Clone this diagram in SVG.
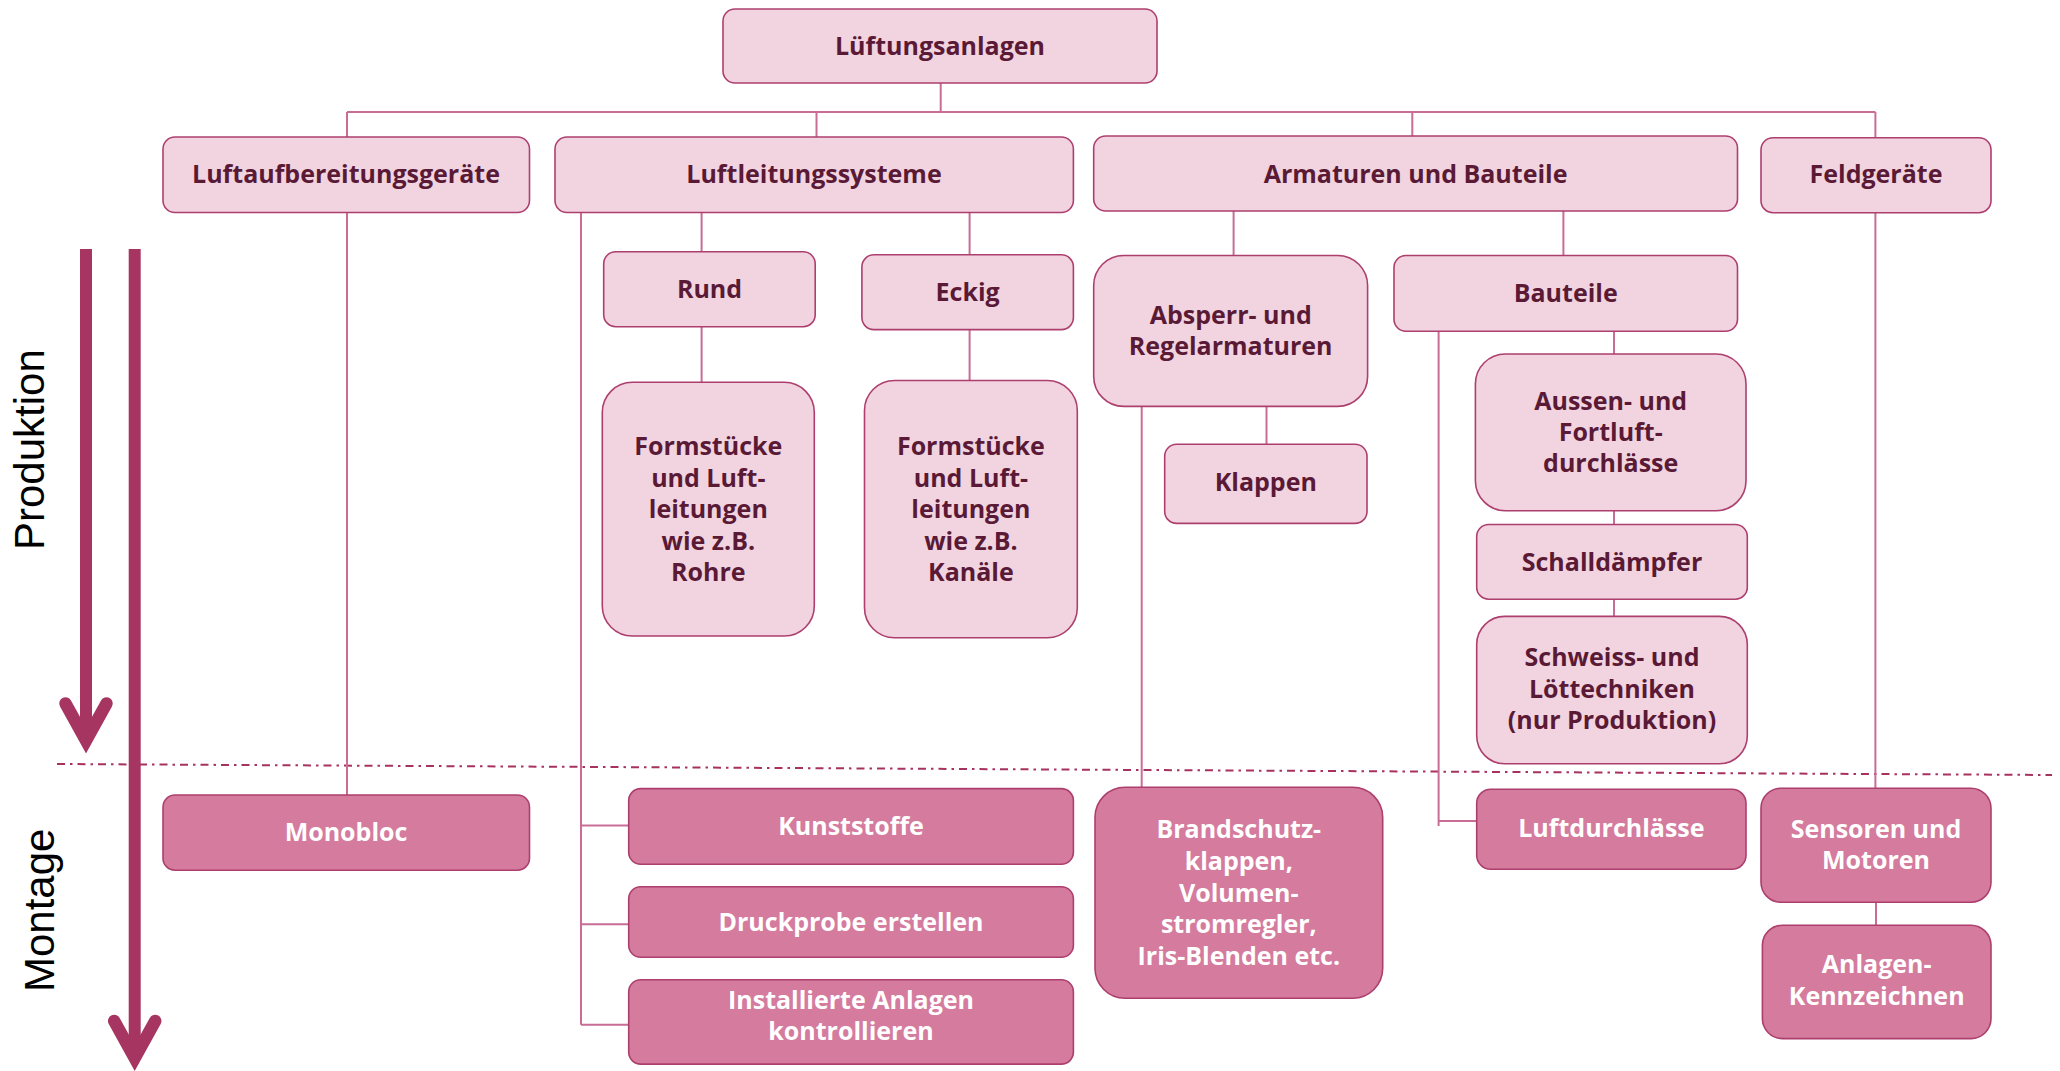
<svg xmlns="http://www.w3.org/2000/svg" width="2060" height="1071" viewBox="0 0 2060 1071">
<style>
.l{fill:#f2d4e0;stroke:#ad3f6e;stroke-width:1.6}
.d{fill:#d47b9e;stroke:#ad3f6e;stroke-width:1.6}
.t{font-family:"Open Sans","Liberation Sans",sans-serif;font-weight:700;font-size:25px;text-anchor:middle;fill:#5a1a36}
.w{font-family:"Open Sans","Liberation Sans",sans-serif;font-weight:700;font-size:25px;text-anchor:middle;fill:#ffffff}
.c{fill:none;stroke:#c96d97;stroke-width:2}
.a{fill:none;stroke:#a63562;stroke-width:12}
.ah{fill:none;stroke:#a63562;stroke-width:12.5;stroke-linecap:round;stroke-linejoin:miter;stroke-miterlimit:10}
.ph{font-family:"Liberation Sans",Arial,sans-serif;font-size:42px;fill:#000000}
</style>
<rect width="2060" height="1071" fill="#ffffff"/>
<g id="phases">
<line class="a" x1="86" y1="249" x2="86" y2="738"/>
<path class="ah" d="M65.5 703.5 L86 740.5 L106.5 703.5"/>
<line class="a" x1="134.7" y1="249" x2="134.7" y2="1055"/>
<path class="ah" d="M114.2 1021 L134.7 1058 L155.2 1021"/>
<text class="ph" transform="translate(43.5,550) rotate(-90)">Produktion</text>
<text class="ph" transform="translate(53.5,992) rotate(-90)">Montage</text>
<line x1="57" y1="764" x2="2052" y2="775" stroke="#a8325f" stroke-width="2" stroke-dasharray="8,5,2.5,5"/>
</g>
<g id="connectors">
<path class="c" d="M940.7 83 V112 M347 112 H1875.4 M347 112 V137 M816.5 112 V137 M1412.3 112 V136 M1875.4 112 V138"/>
<path class="c" d="M347 212.5 V795"/>
<path class="c" d="M701.6 212 V252 M969.6 212 V255 M701.6 327 V382 M969.6 330 V381"/>
<path class="c" d="M581 213 V1024.8 M581 825.4 H629 M581 924.3 H629 M581 1024.8 H629"/>
<path class="c" d="M1233.6 211 V256 M1563.4 211 V256 M1266.5 406 V444 M1141.7 406 V788"/>
<path class="c" d="M1614 331 V354 M1614 510.7 V524.5 M1614 599 V616.5"/>
<path class="c" d="M1438.6 331 V826 M1438.6 821 H1477"/>
<path class="c" d="M1875.4 212.8 V788.5 M1876 902 V925.5"/>
</g>
<g id="n-lueftungsanlagen"><rect class="l" x="723" y="9" width="434" height="74" rx="12"/><text class="t" x="940" y="54.5">Lüftungsanlagen</text></g>
<g id="n-luftaufbereitung"><rect class="l" x="163" y="137" width="366.5" height="75.5" rx="12"/><text class="t" x="346" y="182.5">Luftaufbereitungsgeräte</text></g>
<g id="n-luftleitung"><rect class="l" x="555" y="137" width="518.4" height="75.5" rx="12"/><text class="t" x="814" y="182.5">Luftleitungssysteme</text></g>
<g id="n-armaturen"><rect class="l" x="1093.7" y="136" width="643.8" height="75" rx="12"/><text class="t" x="1415.6" y="182.5">Armaturen und Bauteile</text></g>
<g id="n-feldgeraete"><rect class="l" x="1761" y="137.7" width="230" height="75" rx="12"/><text class="t" x="1876" y="182.5">Feldgeräte</text></g>
<g id="n-rund"><rect class="l" x="603.7" y="251.7" width="211.5" height="75" rx="12"/><text class="t" x="709.5" y="298">Rund</text></g>
<g id="n-eckig"><rect class="l" x="861.9" y="254.8" width="211.5" height="74.8" rx="12"/><text class="t" x="967.6" y="300.6">Eckig</text></g>
<g id="n-formstuecke-rund"><rect class="l" x="602.3" y="382.3" width="212" height="253.7" rx="30"/><text class="t" x="708.3" y="455">Formstücke<tspan x="708.3" dy="31.5">und Luft-</tspan><tspan x="708.3" dy="31.5">leitungen</tspan><tspan x="708.3" dy="31.5">wie z.B.</tspan><tspan x="708.3" dy="31.5">Rohre</tspan></text></g>
<g id="n-formstuecke-eckig"><rect class="l" x="864.5" y="380.5" width="212.8" height="257.3" rx="30"/><text class="t" x="970.9" y="455">Formstücke<tspan x="970.9" dy="31.5">und Luft-</tspan><tspan x="970.9" dy="31.5">leitungen</tspan><tspan x="970.9" dy="31.5">wie z.B.</tspan><tspan x="970.9" dy="31.5">Kanäle</tspan></text></g>
<g id="n-absperr"><rect class="l" x="1093.7" y="255.5" width="273.9" height="150.9" rx="30"/><text class="t" x="1230.7" y="323.7">Absperr- und<tspan x="1230.7" dy="31">Regelarmaturen</tspan></text></g>
<g id="n-bauteile"><rect class="l" x="1394" y="255.5" width="343.5" height="75.8" rx="12"/><text class="t" x="1565.7" y="302">Bauteile</text></g>
<g id="n-klappen"><rect class="l" x="1164.7" y="444.2" width="202.3" height="79.2" rx="12"/><text class="t" x="1265.8" y="490.7">Klappen</text></g>
<g id="n-aussen"><rect class="l" x="1475.4" y="354" width="270.6" height="156.7" rx="30"/><text class="t" x="1610.7" y="409.8">Aussen- und<tspan x="1610.7" dy="31">Fortluft-</tspan><tspan x="1610.7" dy="31">durchlässe</tspan></text></g>
<g id="n-schalldaempfer"><rect class="l" x="1476.7" y="524.5" width="270.6" height="74.7" rx="12"/><text class="t" x="1612" y="570.6">Schalldämpfer</text></g>
<g id="n-schweiss"><rect class="l" x="1476.7" y="616.4" width="270.6" height="147.4" rx="28"/><text class="t" x="1612" y="666.3">Schweiss- und<tspan x="1612" dy="31.5">Löttechniken</tspan><tspan x="1612" dy="31.5">(nur Produktion)</tspan></text></g>
<g id="n-monobloc"><rect class="d" x="163" y="795" width="366.5" height="75.2" rx="12"/><text class="w" x="346" y="841">Monobloc</text></g>
<g id="n-kunststoffe"><rect class="d" x="628.7" y="788.6" width="444.7" height="75.7" rx="12"/><text class="w" x="851" y="834.7">Kunststoffe</text></g>
<g id="n-druckprobe"><rect class="d" x="628.7" y="886.7" width="444.7" height="70.6" rx="12"/><text class="w" x="851" y="930.5">Druckprobe erstellen</text></g>
<g id="n-installierte"><rect class="d" x="628.7" y="979.7" width="444.7" height="84.4" rx="12"/><text class="w" x="851" y="1009">Installierte Anlagen<tspan x="851" dy="31">kontrollieren</tspan></text></g>
<g id="n-brandschutz"><rect class="d" x="1095" y="787.3" width="287.7" height="211" rx="30"/><text class="w" x="1238.8" y="838.3">Brandschutz-<tspan x="1238.8" dy="31.7">klappen,</tspan><tspan x="1238.8" dy="31.7">Volumen-</tspan><tspan x="1238.8" dy="31.7">stromregler,</tspan><tspan x="1238.8" dy="31.7">Iris-Blenden etc.</tspan></text></g>
<g id="n-luftdurchlaesse"><rect class="d" x="1476.7" y="789.3" width="269.3" height="79.9" rx="14"/><text class="w" x="1611.4" y="836.5">Luftdurchlässe</text></g>
<g id="n-sensoren"><rect class="d" x="1761" y="788.2" width="230" height="114" rx="20"/><text class="w" x="1876" y="837.5">Sensoren und<tspan x="1876" dy="31">Motoren</tspan></text></g>
<g id="n-anlagen"><rect class="d" x="1762.4" y="925.3" width="228.6" height="113.3" rx="20"/><text class="w" x="1876.7" y="972.8">Anlagen-<tspan x="1876.7" dy="31.7">Kennzeichnen</tspan></text></g>
</svg>
